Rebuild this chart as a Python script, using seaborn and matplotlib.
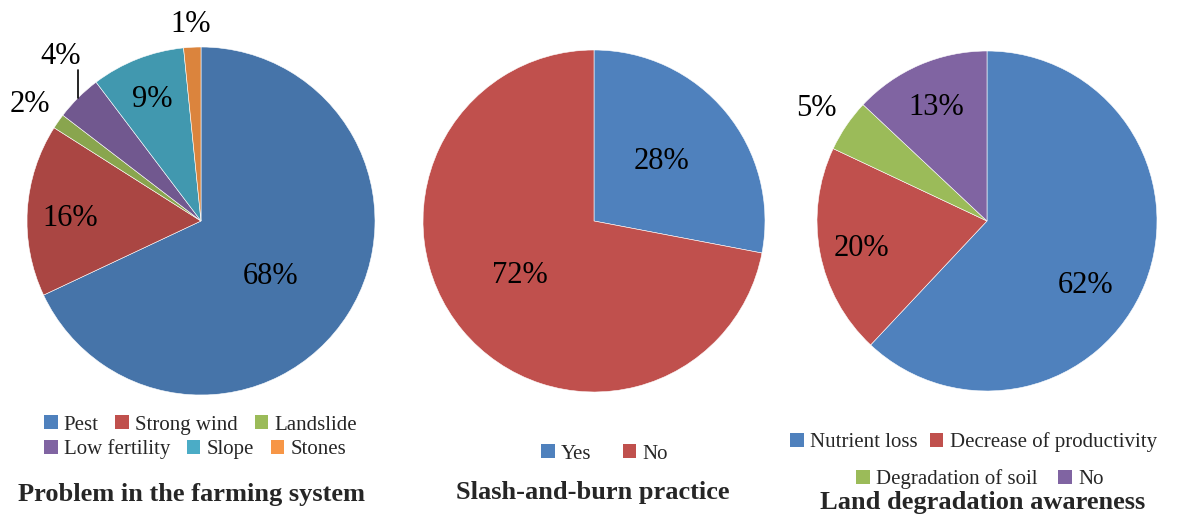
import numpy as np
import matplotlib
matplotlib.use("Agg")
import matplotlib.pyplot as plt
from matplotlib.patches import Patch
import seaborn as sns

# --------------------------------
# Data
# --------------------------------

problem_labels = ["Pest", "Strong wind", "Landslide", "Low fertility", "Slope", "Stones"]
problem_values = [68, 16, 1.4, 4.3, 8.7, 1.6]
problem_text = ["68%", "16%", "2%", "4%", "9%", "1%"]

slash_labels = ["Yes", "No"]
slash_values = [28, 72]
slash_text = ["28%", "72%"]

aware_labels = ["Nutrient loss", "Decrease of productivity", "Degradation of soil", "No"]
aware_values = [62, 20, 5, 13]
aware_text = ["62%", "20%", "5%", "13%"]

# --------------------------------
# Style
# --------------------------------

sns.set_theme(style="white")
plt.rcParams["font.family"] = ["Liberation Serif", "DejaVu Serif"]

dark_colors = sns.color_palette(["#4674A9", "#AA4643", "#89A54E", "#71588F", "#4198AF", "#DB843D"])
light_colors = sns.color_palette(["#4F81BD", "#C0504D", "#9BBB59", "#8064A2", "#4BACC6", "#F79646"])

W, H = 1179, 516
fig = plt.figure(figsize=(W / 100, H / 100), dpi=100)


def pie_axes(cx, cy, r):
    ax = fig.add_axes([(cx - r) / W, (H - cy - r) / H, 2 * r / W, 2 * r / H])
    return ax


def draw_pie(ax, values, colors, texts, radii, offsets):
    wedges, _ = ax.pie(values, colors=colors, startangle=90, counterclock=False,
                       radius=1, wedgeprops=dict(linewidth=0.4, edgecolor="white"))
    ax.set_xlim(-1, 1)
    ax.set_ylim(-1, 1)
    ax.set_aspect("equal")
    ax.axis("off")
    for w, t, r, off in zip(wedges, texts, radii, offsets):
        mid = np.deg2rad((w.theta1 + w.theta2) / 2 + off)
        ax.text(r * np.cos(mid), r * np.sin(mid), t, ha="center", va="center_baseline",
                fontsize=22, color="black", clip_on=False)
    return wedges


def row_legend(colors, labels, x, y, gap):
    handles = [Patch(facecolor=c, edgecolor="none") for c in colors]
    fig.legend(handles, labels, loc="center left", bbox_to_anchor=(x / W, 1 - y / H),
               ncol=len(labels), frameon=False, borderpad=0, borderaxespad=0,
               handlelength=0.65, handleheight=0.65, handletextpad=0.3,
               columnspacing=gap, fontsize=15)


# --------------------------------
# Problem in the farming system
# --------------------------------

ax1 = pie_axes(201, 221, 174)
w1 = draw_pie(ax1, problem_values, dark_colors, problem_text,
              [0.5, 0.75, 1.2, 1.26, 0.77, 1.15], [-4, 1, 0, -5, 0, 0])
# leader line for Low fertility
lf = w1[3]
a = np.deg2rad((lf.theta1 + lf.theta2) / 2)
ax1.plot([np.cos(a), np.cos(a)], [np.sin(a), np.sin(a) + 0.16], color="black", lw=1.2,
         clip_on=False)

row_legend(light_colors[:3], problem_labels[:3], 44, 425, 0.8)
row_legend(light_colors[3:6], problem_labels[3:], 44, 449, 0.8)
fig.text(191 / W, 1 - 495 / H, "Problem in the farming system", ha="center", va="center",
         fontsize=19, fontweight="bold")

# --------------------------------
# Slash-and-burn practice
# --------------------------------

ax2 = pie_axes(594, 221, 171)
draw_pie(ax2, slash_values, light_colors[:2], slash_text, [0.54, 0.53], [3, -5])
row_legend(light_colors[:2], slash_labels, 541, 454, 1.5)
fig.text(593 / W, 1 - 493 / H, "Slash-and-burn practice", ha="center", va="center",
         fontsize=19, fontweight="bold")

# --------------------------------
# Land degradation awareness
# --------------------------------

ax3 = pie_axes(987, 221, 170)
draw_pie(ax3, aware_values, light_colors[:4], aware_text,
         [0.68, 0.75, 1.21, 0.75], [-10, 0, 0, 0])
row_legend(light_colors[:2], aware_labels[:2], 790, 442, 0.6)
row_legend(light_colors[2:4], aware_labels[2:], 856, 479, 1.0)
fig.text(983 / W, 1 - 502 / H, "Land degradation awareness", ha="center", va="center",
         fontsize=19, fontweight="bold")

fig.savefig("out.png", dpi=100)
